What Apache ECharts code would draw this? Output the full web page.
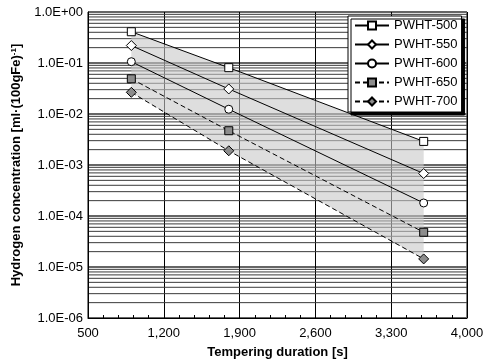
<!DOCTYPE html>
<html><head><meta charset="utf-8">
<script src="https://cdn.jsdelivr.net/npm/echarts@6/dist/echarts.min.js"></script>
<style>html,body{margin:0;padding:0;background:#fff}#c{width:491px;height:362px}</style>
</head><body><div id="c"></div>
<script>
const durations = [900, 1800, 3600];
const pwht500 = [0.41, 0.081, 0.0029];
const pwht550 = [0.22, 0.031, 0.00068];
const pwht600 = [0.106, 0.0124, 0.00018];
const pwht650 = [0.049, 0.0047, 0.000048];
const pwht700 = [0.0266, 0.0019, 0.0000144];
const seriesNames = ['PWHT-500','PWHT-550','PWHT-600','PWHT-650','PWHT-700'];

const allSeries = [pwht500, pwht550, pwht600, pwht650, pwht700];
const styles = [
  {symbol:'rect', size:8, fill:'#fff', dash:'solid'},
  {symbol:'diamond', size:10, fill:'#fff', dash:'solid'},
  {symbol:'circle', size:8, fill:'#fff', dash:'solid'},
  {symbol:'rect', size:8, fill:'#8c8c8c', dash:[5,3]},
  {symbol:'diamond', size:10, fill:'#8c8c8c', dash:[5,3]}
];

// log minor grid values (2..9 in each decade)
const minorVals = [];
for (let e = -6; e < 0; e++) for (let m = 2; m <= 9; m++) minorVals.push(m * Math.pow(10, e));

function fmtY(v){
  const e = Math.round(Math.log10(v));
  return '1.0E' + (e < 0 ? '-' : '+') + String(Math.abs(e)).padStart(2,'0');
}
const FONT = 'Liberation Sans, Arial, sans-serif';

const series = [];
series.push({
  type:'custom', name:'minorgrid', z:0, silent:true,
  data:[[500, 1e-6]],
  renderItem: function(params, api){
    const children = minorVals.map(v => {
      const a = api.coord([500, v]), b = api.coord([4000, v]);
      return {type:'line', shape:{x1:a[0], y1:a[1], x2:b[0], y2:b[1]},
        style:{stroke:'#3a3a3a', lineWidth:1}};
    });
    return {type:'group', children: children};
  }
});
series.push({
  type:'custom', name:'band', z:1, silent:true,
  data: durations.map((x,i)=>[x, pwht500[i], pwht700[i]]),
  renderItem: function(params, api){
    if (params.dataIndex !== 0) return;
    const pts = [];
    for (let i = 0; i < durations.length; i++) pts.push(api.coord([durations[i], pwht500[i]]));
    for (let i = durations.length - 1; i >= 0; i--) pts.push(api.coord([durations[i], pwht700[i]]));
    return {type:'polygon', shape:{points:pts}, style:{fill:'rgba(200,200,200,0.6)', stroke:null}};
  }
});
allSeries.forEach((vals, k) => {
  const s = styles[k];
  series.push({
    type:'line', name: seriesNames[k], z:3,
    data: durations.map((x,i)=>[x, vals[i]]),
    symbol: s.symbol, symbolSize: s.size, showAllSymbol:true,
    itemStyle:{color:s.fill, borderColor:'#000', borderWidth:1},
    lineStyle:{color:'#000', width:1, type:s.dash},
    emphasis:{disabled:true}, animation:false
  });
});

const chart = echarts.init(document.getElementById('c'), null, {renderer:'canvas'});
chart.setOption({
  animation:false,
  backgroundColor:'#fff',
  grid:{left:88, right:24, top:12, bottom:44, show:true, borderColor:'#000', borderWidth:1,
    backgroundColor:'transparent', outerBoundsMode:'none', containLabel:false},
  legend:{
    data: seriesNames, left:348, top:16, orient:'vertical', z:10,
    backgroundColor:'#fff', borderColor:'#000', borderWidth:1,
    shadowColor:'#000', shadowOffsetX:3, shadowOffsetY:3, shadowBlur:0,
    padding:[3,4,4,6], itemGap:6, itemWidth:34, itemHeight:10,
    lineStyle:{width:2},
    textStyle:{fontFamily:FONT, fontSize:13, color:'#000'}
  },
  xAxis:{
    type:'value', min:500, max:4000, interval:700,
    name:'Tempering duration [s]', nameLocation:'middle', nameGap:28,
    nameTextStyle:{fontFamily:FONT, fontWeight:'bold', fontSize:13, color:'#000'},
    axisLine:{lineStyle:{color:'#000'}},
    axisTick:{show:false, inside:true},
    minorTick:{show:true, splitNumber:5, length:3, lineStyle:{color:'#000'}},
    splitLine:{show:true, lineStyle:{color:'#000', width:1}},
    axisLabel:{fontFamily:FONT, fontSize:13, color:'#000', margin:9,
      formatter: v => v.toLocaleString('en-US')}
  },
  yAxis:{
    type:'log', logBase:10, min:1e-6, max:1,
    name:'{n|Hydrogen concentration [ml·(100gFe)}{s|-1}{n|]}', nameLocation:'middle', nameGap:63,
    nameTextStyle:{rich:{
      n:{fontFamily:FONT, fontWeight:'bold', fontSize:13, color:'#000'},
      s:{fontFamily:FONT, fontWeight:'bold', fontSize:8, color:'#000', verticalAlign:'top', padding:[0,0,7,0]}
    }},
    axisLine:{show:true, lineStyle:{color:'#000'}},
    axisTick:{show:false},
    splitLine:{show:true, lineStyle:{color:'#666', width:2}},
    axisLabel:{fontFamily:FONT, fontSize:13, color:'#000', margin:5, formatter: fmtY}
  },
  series: series
});
</script></body></html>
